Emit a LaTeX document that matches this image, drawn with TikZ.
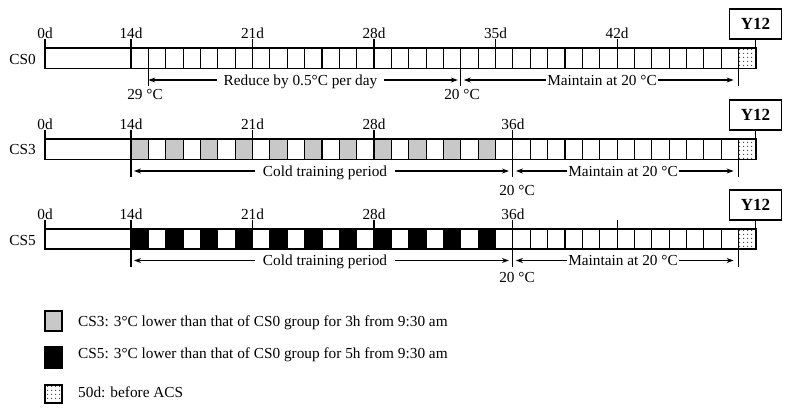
\documentclass[tikz,border=0pt]{standalone}
\usepackage{fontspec}
\setmainfont{Liberation Serif}
\usetikzlibrary{arrows.meta,patterns.meta}
\definecolor{cellgray}{RGB}{200,200,200}
\begin{document}
\begin{tikzpicture}[x=1pt,y=-1pt,
  every node/.style={font=\fontsize{15.3}{17}\selectfont, inner sep=0pt},
  lw/.style={line width=1.1pt},
  arr/.style={line width=1.1pt,-{Stealth[length=7pt,width=5pt]}},
  ybox/.style={draw,line width=1.1pt,minimum width=51.5pt,minimum height=30pt,font=\fontsize{17}{19}\selectfont\bfseries},
  gcell/.style={fill=cellgray},
  bcell/.style={fill=black},
  dcell/.style={pattern={Dots[distance=4pt,radius=0.65pt]}},
]
\useasboundingbox (0,0) rectangle (789,413);

% ================= CS0 =================
\fill[dcell] (738.6,48) rectangle (756,68.5);
\draw[lw] (45,48) rectangle (756,68.5);
\foreach \d in {14,...,49} \draw[lw] ({131+(\d-14)*17.36},48) -- ({131+(\d-14)*17.36},68.5);
\node[anchor=base east] (lcs0) at (36,64) {CS0};
\draw[lw] (45,39) -- (45,48);
\node[anchor=base] (t0a) at (45,38) {0d};
\foreach \d in {14,21,28,35,42} {
  \draw[lw] ({131+(\d-14)*17.36},39) -- ({131+(\d-14)*17.36},48);
  \node[anchor=base] at ({131+(\d-14)*17.36},38) {\d d};
}
\node[ybox] (y12a) at (755.5,24) {Y12};
\coordinate (ea) at (755.5,48);
\draw[lw] (y12a.south) -- (ea);
% markers
\coordinate (m15t) at ({131+1*17.36},68.5);
\coordinate (m15) at ({131+1*17.36},80);
\coordinate (m15b) at ({131+1*17.36},86);
\coordinate (m33t) at ({131+19*17.36},68.5);
\coordinate (m33) at ({131+19*17.36},80);
\coordinate (m33b) at ({131+19*17.36},86);
\coordinate (m49at) at ({131+35*17.36},68.5);
\coordinate (m49a) at ({131+35*17.36},80);
\coordinate (m49ab) at ({131+35*17.36},86);
\draw[lw] (m15t) -- (m15b);
\draw[lw] (m33t) -- (m33b);
\draw[lw] (m49at) -- (m49ab);
\node[anchor=base] (c29) at (145,99) {29 °C};
\node[anchor=base] (c20a) at (462,99) {20 °C};
\node[anchor=base,inner xsep=7pt] (reduce) at (300.5,85) {Reduce by 0.5°C per day};
\draw[arr] (reduce.base west |- m15) -- (m15);
\draw[arr] (reduce.base east |- m33) -- ([xshift=-3pt]m33);
\node[anchor=base,inner xsep=1pt] (maina) at (602,85) {Maintain at 20 °C};
\draw[arr] (maina.base west |- m33) -- ([xshift=3pt]m33);
\draw[arr] (maina.base east |- m49a) -- ([xshift=-5pt]m49a);

% ================= CS3 =================
\foreach \d in {14,16,...,34} \fill[gcell] ({131+(\d-14)*17.36},139) rectangle ({131+(\d-13)*17.36},159.5);
\fill[dcell] (738.6,139) rectangle (756,159.5);
\draw[lw] (45,139) rectangle (756,159.5);
\foreach \d in {14,...,49} \draw[lw] ({131+(\d-14)*17.36},139) -- ({131+(\d-14)*17.36},159.5);
\node[anchor=base east] (lcs3) at (36,154.5) {CS3};
\draw[lw] (45,130) -- (45,139);
\node[anchor=base] (t0b) at (45,129) {0d};
\foreach \d in {14,21,28,36} {
  \draw[lw] ({131+(\d-14)*17.36},130) -- ({131+(\d-14)*17.36},139);
  \node[anchor=base] at ({131+(\d-14)*17.36},129) {\d d};
}
\node[ybox] (y12b) at (755.5,115) {Y12};
\coordinate (eb) at (755.5,139);
\draw[lw] (y12b.south) -- (eb);
\coordinate (n14t) at (131,159.5);
\coordinate (n14) at (131,171);
\coordinate (n14b) at (131,177);
\coordinate (n36t) at ({131+22*17.36},159.5);
\coordinate (n36) at ({131+22*17.36},171);
\coordinate (n36b) at ({131+22*17.36},177);
\coordinate (n49t) at ({131+35*17.36},159.5);
\coordinate (n49) at ({131+35*17.36},171);
\coordinate (n49b) at ({131+35*17.36},177);
\draw[lw] (n14t) -- (n14b);
\draw[lw] (n36t) -- (n36b);
\draw[lw] (n49t) -- (n49b);
\node[anchor=base] (c20b) at (517,195) {20 °C};
\node[anchor=base,inner xsep=8pt] (coldb) at (325,176) {Cold training period};
\draw[arr] (coldb.base west |- n14) -- ([xshift=3pt]n14);
\draw[arr] (coldb.base east |- n36) -- ([xshift=-4pt]n36);
\node[anchor=base,inner xsep=1pt] (mainb) at (623,176) {Maintain at 20 °C};
\draw[arr] (mainb.base west |- n36) -- ([xshift=3pt]n36);
\draw[arr] (mainb.base east |- n49) -- ([xshift=-5pt]n49);

% ================= CS5 =================
\foreach \d in {14,16,...,34} \fill[bcell] ({131+(\d-14)*17.36},229) rectangle ({131+(\d-13)*17.36},249);
\fill[dcell] (738.6,229) rectangle (756,249);
\draw[lw] (45,229) rectangle (756,249);
\foreach \d in {14,...,49} \draw[lw] ({131+(\d-14)*17.36},229) -- ({131+(\d-14)*17.36},249);
\node[anchor=base east] (lcs5) at (36,245) {CS5};
\draw[lw] (45,220) -- (45,229);
\node[anchor=base] (t0c) at (45,219) {0d};
\foreach \d in {14,21,28,36} {
  \draw[lw] ({131+(\d-14)*17.36},220) -- ({131+(\d-14)*17.36},229);
  \node[anchor=base] at ({131+(\d-14)*17.36},219) {\d d};
}
\draw[lw] ({131+28*17.36},220) -- ({131+28*17.36},229);
\node[ybox] (y12c) at (755.5,205) {Y12};
\coordinate (ec) at (755.5,229);
\draw[lw] (y12c.south) -- (ec);
\coordinate (p14t) at (131,249);
\coordinate (p14) at (131,260.5);
\coordinate (p14b) at (131,266.5);
\coordinate (p36t) at ({131+22*17.36},249);
\coordinate (p36) at ({131+22*17.36},260.5);
\coordinate (p36b) at ({131+22*17.36},266.5);
\coordinate (p49t) at ({131+35*17.36},249);
\coordinate (p49) at ({131+35*17.36},260.5);
\coordinate (p49b) at ({131+35*17.36},266.5);
\draw[lw] (p14t) -- (p14b);
\draw[lw] (p36t) -- (p36b);
\draw[lw] (p49t) -- (p49b);
\node[anchor=base] (c20c) at (517,282.5) {20 °C};
\node[anchor=base,inner xsep=8pt] (coldc) at (325,265.5) {Cold training period};
\draw[arr] (coldc.base west |- p14) -- ([xshift=3pt]p14);
\draw[arr] (coldc.base east |- p36) -- ([xshift=-4pt]p36);
\node[anchor=base,inner xsep=1pt] (mainc) at (623,265.5) {Maintain at 20 °C};
\draw[arr] (mainc.base west |- p36) -- ([xshift=3pt]p36);
\draw[arr] (mainc.base east |- p49) -- ([xshift=-5pt]p49);

% ================= Legend =================
\filldraw[lw,fill=cellgray] (45,311) rectangle (62,331);
\node[anchor=base west] (lg1) at (78,326) {CS3: 3°C lower than that of CS0 group for 3h from 9:30 am};
\filldraw[lw,fill=black] (45,347) rectangle (62,368);
\node[anchor=base west] (lg2) at (78,358.5) {CS5: 3°C lower than that of CS0 group for 5h from 9:30 am};
\fill[dcell] (45,385) rectangle (62,403);
\draw[lw] (45,385) rectangle (62,403);
\node[anchor=base west] (lg3) at (78,397) {50d: before ACS};
\end{tikzpicture}
\end{document}
